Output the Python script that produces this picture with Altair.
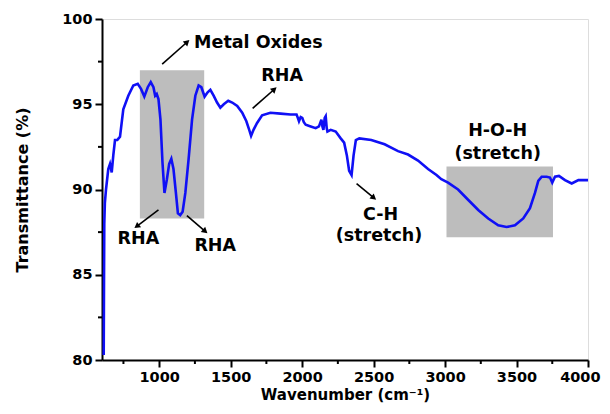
import math
import altair as alt
import pandas as pd

# ---- data ----
wavenumber = [612, 614, 616, 620, 628, 644, 656, 668, 679, 691, 707, 726, 749, 784, 819, 850,
              873, 896, 920, 941, 960, 972, 983, 995, 1009, 1023, 1037, 1054, 1070, 1085, 1100,
              1117, 1131, 1147, 1164, 1183, 1206, 1230, 1253, 1276, 1295, 1318, 1339, 1358, 1381,
              1405, 1428, 1452, 1483, 1511, 1546, 1581, 1610, 1630, 1643, 1660, 1685, 1720, 1778,
              1849, 1919, 1961, 1970, 1978, 1990, 2001, 2012, 2025, 2060, 2095, 2118, 2135, 2142,
              2149, 2158, 2165, 2172, 2177, 2200, 2235, 2270, 2294, 2313, 2329, 2346, 2360, 2376,
              2400, 2484, 2577, 2671, 2741, 2811, 2881, 2940, 2974, 3021, 3091, 3161, 3232, 3302,
              3372, 3430, 3489, 3547, 3594, 3629, 3652, 3676, 3711, 3734, 3750, 3769, 3797, 3839,
              3886, 3933, 4000]
transmittance = [80.3, 84.5, 88.0, 89.2, 90.0, 91.2, 91.5, 91.0, 92.0, 92.9, 92.9, 93.1, 94.7, 95.5,
                 96.1, 96.2, 95.9, 95.45, 96.0, 96.3, 96.0, 95.5, 95.6, 95.3, 94.1, 91.6, 89.8, 90.6,
                 91.5, 91.8, 91.2, 89.8, 88.6, 88.5, 88.7, 89.8, 91.8, 94.1, 95.5, 96.1, 96.0, 95.45,
                 95.7, 95.85, 95.5, 95.1, 94.8, 95.0, 95.2, 95.1, 94.9, 94.5, 94.0, 93.5, 93.15, 93.5,
                 93.9, 94.35, 94.5, 94.45, 94.4, 94.4, 94.2, 94.0, 94.25, 94.2, 93.95, 93.8, 93.7,
                 93.6, 93.7, 94.1, 93.7, 93.5, 94.2, 94.3, 93.6, 93.4, 93.5, 93.4, 93.0, 92.75, 92.0,
                 91.1, 90.85, 92.0, 92.9, 93.0, 92.9, 92.65, 92.25, 92.05, 91.7, 91.2, 90.85, 90.6,
                 90.4, 90.0, 89.4, 88.8, 88.3, 87.9, 87.8, 87.9, 88.3, 88.9, 89.8, 90.5, 90.75, 90.75,
                 90.7, 90.4, 90.75, 90.8, 90.55, 90.35, 90.55, 90.55]

box_x1 = [865, 3010]
box_x2 = [1315, 3755]
box_y1 = [88.3, 87.2]
box_y2 = [97.0, 91.35]

label_text = ["Metal Oxides", "RHA", "RHA", "RHA", "C-H", "(stretch)", "H-O-H", "(stretch)"]
label_x = [1694, 1860, 855, 1392, 2549, 2538, 3368, 3368]
label_y = [98.6, 96.66, 87.1, 86.7, 88.53, 87.3, 93.43, 92.1]

arrow_x1 = [1021, 1654, 995, 1194, 2381]
arrow_y1 = [97.35, 94.76, 88.8, 88.47, 90.34]
arrow_x2 = [1196, 1806, 843, 1322, 2502]
arrow_y2 = [98.65, 95.88, 87.84, 87.55, 89.51]

x_major = [1000, 1500, 2000, 2500, 3000, 3500, 4000]
x_minor = [750, 1250, 1750, 2250, 2750, 3250, 3750]
y_major = [80, 85, 90, 95, 100]
y_minor = [82.5, 87.5, 92.5, 97.5]

X_DOMAIN = [600, 4000]
Y_DOMAIN = [80, 100]
W, H = 486, 341

FONT = "DejaVu Sans"

spec = pd.DataFrame({"w": wavenumber, "t": transmittance})
boxes = pd.DataFrame({"x1": box_x1, "x2": box_x2, "y1": box_y1, "y2": box_y2})
labels = pd.DataFrame({"x": label_x, "y": label_y, "text": label_text})
xminor = pd.DataFrame({"v": x_minor})
yminor = pd.DataFrame({"v": y_minor})

# arrow head orientation (clockwise from up, in screen pixels)
px_per_x = W / (X_DOMAIN[1] - X_DOMAIN[0])
px_per_y = H / (Y_DOMAIN[1] - Y_DOMAIN[0])
angles = []
for a, b, c, d in zip(arrow_x1, arrow_y1, arrow_x2, arrow_y2):
    dx = (c - a) * px_per_x
    dy = (d - b) * px_per_y
    angles.append(math.degrees(math.atan2(dx, dy)) % 360)
arrows = pd.DataFrame({"x1": arrow_x1, "y1": arrow_y1, "x2": arrow_x2, "y2": arrow_y2, "angle": angles})

xscale = alt.Scale(domain=X_DOMAIN, nice=False, zero=False)
yscale = alt.Scale(domain=Y_DOMAIN, nice=False, zero=False)

x_axis = alt.Axis(
    title="Wavenumber (cm⁻¹)", values=x_major, format="d",
    labelOverlap=False, tickSize=7,
    grid=False, domainColor="black", domainWidth=2, tickColor="black", tickWidth=2,
    labelFont=FONT, labelFontSize=14.5, labelFontWeight="bold", labelColor="black",
    labelPadding=3, labelFlush=True, labelFlushOffset=12,
    titleFont=FONT, titleFontSize=15, titleFontWeight="bold", titleColor="black", titlePadding=4,
)
y_axis = alt.Axis(
    title="Transmittance (%)", values=y_major, format="d",
    labelOverlap=False, tickSize=7,
    grid=False, domainColor="black", domainWidth=2, tickColor="black", tickWidth=2,
    labelFont=FONT, labelFontSize=14.5, labelFontWeight="bold", labelColor="black",
    labelPadding=3, labelFlush=False,
    titleFont=FONT, titleFontSize=16, titleFontWeight="bold", titleColor="black", titlePadding=31,
)

rects = alt.Chart(boxes).mark_rect(color="#bdbdbd").encode(
    x=alt.X("x1:Q", scale=xscale, axis=x_axis), x2="x2:Q",
    y=alt.Y("y1:Q", scale=yscale, axis=y_axis), y2="y2:Q",
)

line = alt.Chart(spec).mark_line(color="#1010f5", strokeWidth=2.6).encode(
    x=alt.X("w:Q", scale=xscale), y=alt.Y("t:Q", scale=yscale),
)

xminor_ticks = alt.Chart(xminor).mark_rule(color="black", strokeWidth=2).encode(
    x=alt.X("v:Q", scale=xscale), y=alt.value(H), y2=alt.value(H + 4),
)
yminor_ticks = alt.Chart(yminor).mark_rule(color="black", strokeWidth=2).encode(
    y=alt.Y("v:Q", scale=yscale), x=alt.value(0), x2=alt.value(-4),
)

rules = alt.Chart(arrows).mark_rule(color="black", strokeWidth=1.6).encode(
    x=alt.X("x1:Q", scale=xscale), x2="x2:Q",
    y=alt.Y("y1:Q", scale=yscale), y2="y2:Q",
)

heads = alt.Chart(arrows).mark_point(
    shape="triangle-up", filled=True, color="black", opacity=1, size=45
).encode(
    x=alt.X("x2:Q", scale=xscale), y=alt.Y("y2:Q", scale=yscale),
    angle=alt.Angle("angle:Q", scale=None),
)

texts = alt.Chart(labels).mark_text(
    font=FONT, fontSize=17.5, fontWeight="bold", color="black", align="center", baseline="middle"
).encode(
    x=alt.X("x:Q", scale=xscale), y=alt.Y("y:Q", scale=yscale), text="text:N",
)

chart = alt.layer(rects, line, xminor_ticks, yminor_ticks, rules, heads, texts).properties(
    width=W, height=H,
    autosize=alt.AutoSizeParams(type="none"),
    padding={"left": 94, "top": 11, "right": 14, "bottom": 46},
).configure_view(
    stroke="black", strokeWidth=2, clip=False
).configure(background="white")

chart.save("out.html", embed_options={"renderer": "svg", "actions": False})
